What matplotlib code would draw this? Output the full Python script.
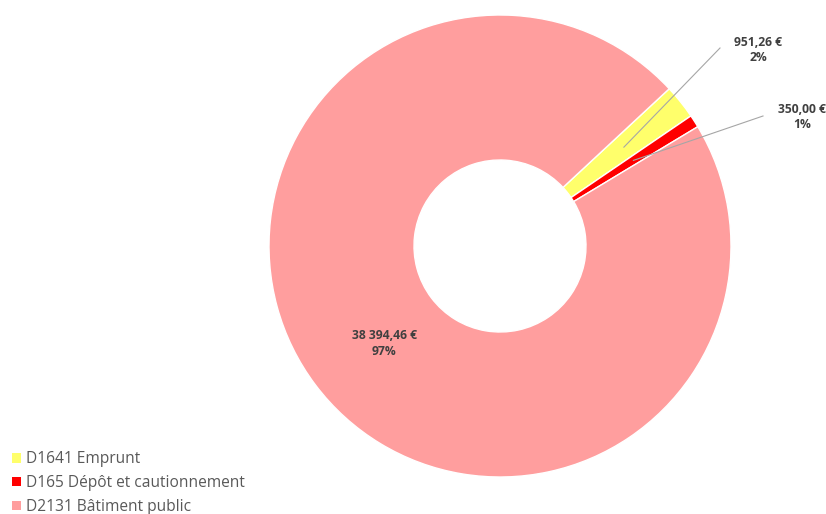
import numpy as np
import matplotlib
matplotlib.use("Agg")
import matplotlib.pyplot as plt
from matplotlib.patches import Patch

categories = ["D1641 Emprunt", "D165 Dépôt et cautionnement", "D2131 Bâtiment public"]
values = [951.26, 350.00, 38394.46]
colors = ["#FFFF6B", "#FF0000", "#FF9E9E"]

W, H = 826, 514
fig = plt.figure(figsize=(W / 100, H / 100), dpi=100)
ax = fig.add_axes([0, 0, 1, 1])
ax.set_xlim(0, W)
ax.set_ylim(0, H)
ax.set_aspect("equal")
ax.axis("off")

cx, cy = 500, H - 246
R = 231
r_in = 86
start = 42.9

wedges, _ = ax.pie(values, colors=colors, startangle=start, counterclock=False,
                   radius=R, center=(cx, cy), frame=True,
                   wedgeprops=dict(width=R - r_in, edgecolor="white", linewidth=1))
ax.set_xlim(0, W)
ax.set_ylim(0, H)
ax.axis("off")

total = sum(values)

def fmt_eur(v):
    s = f"{v:,.2f}"
    s = s.replace(",", " ").replace(".", ",")
    return s + " €"

label_font = dict(fontsize=8.7, fontweight="bold", color="#404040",
                  family=["Open Sans", "DejaVu Sans"], ha="center", va="center",
                  linespacing=1.25)
rmid = (R + r_in) / 2
# external label positions (pixels, top-origin) for the two small slices
ext_pos = {0: (758, 50), 1: (802, 117)}
ext_line_end = {0: (720, 48), 1: (763, 116)}

for i, w in enumerate(wedges):
    ang = np.deg2rad((w.theta1 + w.theta2) / 2)
    px = cx + rmid * np.cos(ang)
    py = cy + rmid * np.sin(ang)
    txt = f"{fmt_eur(values[i])}\n{round(values[i] / total * 100):.0f}%"
    if i in ext_pos:
        lx, ly = ext_pos[i]
        ex, ey = ext_line_end[i]
        ax.plot([px, ex], [py, H - ey], color="#A6A6A6", lw=0.8)
        ax.text(lx, H - ly, txt, **label_font)
    else:
        ax.text(px + 11, py - 2, txt, **label_font)

handles = [Patch(facecolor=c, edgecolor="none") for c in colors]
leg = ax.legend(handles, categories, loc="lower left", bbox_to_anchor=(-2 / W, -15 / H),
                frameon=False, handlelength=0.55, handleheight=0.55,
                handletextpad=0.35, labelspacing=0.5,
                prop=dict(family=["Open Sans", "DejaVu Sans"], size=11.2))
for t in leg.get_texts():
    t.set_color("#595959")

fig.savefig("out.png", dpi=100)
